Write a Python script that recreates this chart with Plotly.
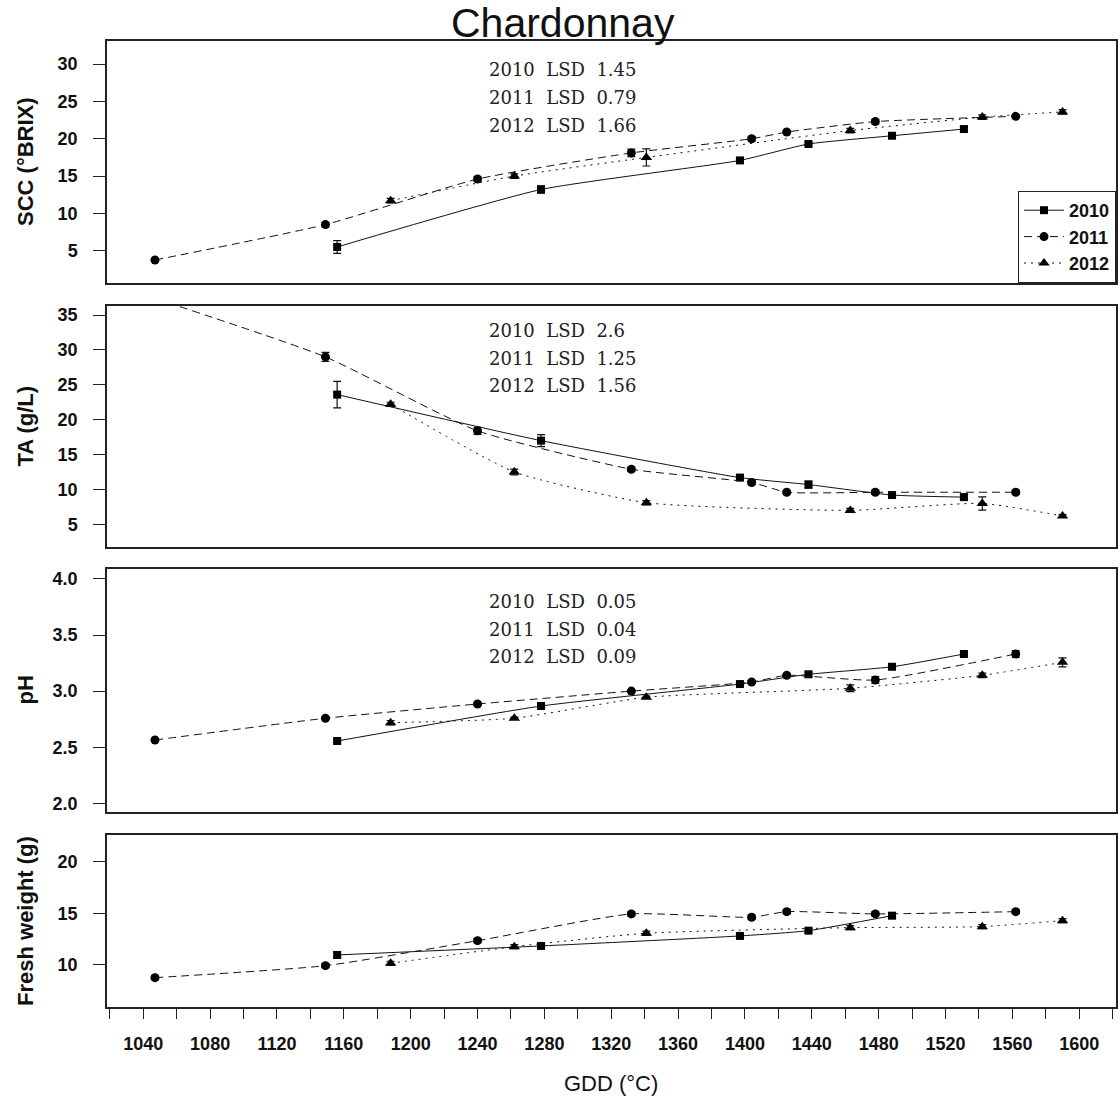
import plotly.graph_objects as go

# ---------------- data ----------------
years = ["2010", "2011", "2012"]
gdd_2010 = [1156, 1278, 1397, 1438, 1488, 1531]
gdd_2011 = [1047, 1149, 1240, 1332, 1404, 1425, 1478, 1562]
gdd_2012 = [1188, 1262, 1341, 1463, 1542, 1590]

scc_2010 = [5.5, 13.2, 17.1, 19.3, 20.4, 21.3]
scc_2011 = [3.75, 8.5, 14.6, 18.1, 20.0, 20.9, 22.3, 23.0]
scc_2012 = [11.7, 15.0, 17.5, 21.1, 22.9, 23.6]
scc_err_2010 = [0.85, 0.5, 0.2, 0.2, 0.2, 0.3]
scc_err_2011 = [0.2, 0.3, 0.3, 0.5, 0.3, 0.2, 0.3, 0.2]
scc_err_2012 = [0.3, 0.3, 1.15, 0.3, 0.3, 0.3]

ta_2010 = [23.6, 17.0, 11.7, 10.7, 9.2, 8.9]
ta_2011 = [37.4, 29.0, 18.4, 12.9, 11.0, 9.6, 9.6, 9.6]
ta_2012 = [22.2, 12.5, 8.1, 7.0, 8.0, 6.2]
ta_err_2010 = [1.9, 0.85, 0.4, 0.5, 0.3, 0.4]
ta_err_2011 = [0.0, 0.65, 0.5, 0.3, 0.3, 0.2, 0.3, 0.3]
ta_err_2012 = [0.3, 0.4, 0.3, 0.3, 0.95, 0.2]

ph_2010 = [2.555, 2.867, 3.063, 3.15, 3.217, 3.331]
ph_2011 = [2.564, 2.758, 2.885, 3.0, 3.081, 3.141, 3.099, 3.331]
ph_2012 = [2.718, 2.758, 2.945, 3.025, 3.141, 3.257]
ph_err_2010 = [0.01, 0.015, 0.01, 0.02, 0.01, 0.01]
ph_err_2011 = [0.01, 0.01, 0.01, 0.01, 0.01, 0.01, 0.03, 0.03]
ph_err_2012 = [0.02, 0.01, 0.01, 0.03, 0.02, 0.04]

fw_2010 = [10.97, 11.84, 12.81, 13.32, 14.77, None]
fw_2011 = [8.77, 9.93, 12.35, 14.94, 14.62, 15.16, 14.94, 15.16]
fw_2012 = [10.16, 11.77, 13.07, 13.61, 13.71, 14.29]
fw_err_2010 = [0.3, 0.2, 0.2, 0.2, 0.2, 0]
fw_err_2011 = [0.2, 0.2, 0.2, 0.2, 0.2, 0.2, 0.2, 0.2]
fw_err_2012 = [0.2, 0.2, 0.2, 0.2, 0.2, 0.2]

lsd_scc = ["1.45", "0.79", "1.66"]
lsd_ta = ["2.6", "1.25", "1.56"]
lsd_ph = ["0.05", "0.04", "0.09"]

y_titles = ["SCC (°BRIX)", "TA (g/L)", "pH", "Fresh weight (g)"]
x_ticks = list(range(1040, 1601, 40))

# ---------------- layout helpers ----------------
W, H = 1120, 1099
L, R = 107, 1116


def px_x(p):
    return (p - L) / (R - L)


def px_y(p):
    return (H - p) / H


panel_px = [(41, 283), (306, 547), (569, 812), (835, 1007)]
y_ranges = [[0.67, 33.1], [1.75, 36.3], [1.922, 4.089], [5.93, 22.58]]
y_ticks = [[5, 10, 15, 20, 25, 30], [5, 10, 15, 20, 25, 30, 35],
           [2.0, 2.5, 3.0, 3.5, 4.0], [10, 15, 20]]
x_range = [1018.3, 1622]

styles = {
    "2010": dict(dash="solid", symbol="square", size=8),
    "2011": dict(dash="8px,5px", symbol="circle", size=9),
    "2012": dict(dash="2px,5px", symbol="triangle-up", size=10),
}

panels = [
    ([gdd_2010, gdd_2011, gdd_2012], [scc_2010, scc_2011, scc_2012],
     [scc_err_2010, scc_err_2011, scc_err_2012]),
    ([gdd_2010, gdd_2011, gdd_2012], [ta_2010, ta_2011, ta_2012],
     [ta_err_2010, ta_err_2011, ta_err_2012]),
    ([gdd_2010, gdd_2011, gdd_2012], [ph_2010, ph_2011, ph_2012],
     [ph_err_2010, ph_err_2011, ph_err_2012]),
    ([gdd_2010, gdd_2011, gdd_2012], [fw_2010, fw_2011, fw_2012],
     [fw_err_2010, fw_err_2011, fw_err_2012]),
]

fig = go.Figure()
for i, (xs, ys, es) in enumerate(panels):
    ax = "" if i == 0 else str(i + 1)
    for yr, x, y, e in zip(years, xs, ys, es):
        st = styles[yr]
        fig.add_trace(go.Scatter(
            x=x, y=y, name=yr, mode="lines+markers",
            xaxis="x" + ax, yaxis="y" + ax,
            line=dict(color="#111", width=1, dash=st["dash"], shape="spline", smoothing=0.5),
            marker=dict(symbol=st["symbol"], size=st["size"], color="#000"),
            error_y=dict(type="data", array=e, visible=True, color="#111",
                         thickness=1.2, width=4),
            showlegend=(i == 0), connectgaps=False, cliponaxis=True,
        ))

font_sans = "Liberation Sans, Arial, sans-serif"
layout = dict(
    width=W, height=H, plot_bgcolor="white", paper_bgcolor="white",
    margin=dict(l=L, r=W - R, t=0, b=0),
    showlegend=True,
    legend=dict(x=1, xanchor="right", y=px_y(283), yanchor="bottom",
                bordercolor="#222", borderwidth=1, bgcolor="white",
                font=dict(family=font_sans, size=18, color="#111", weight="bold"),
                tracegroupgap=0, itemwidth=40),
)
for i in range(4):
    ax = "" if i == 0 else str(i + 1)
    top, bot = panel_px[i]
    bottom = i == 3
    xa = dict(domain=[0, 1], range=x_range, anchor="y" + ax,
              showline=True, mirror=True, linecolor="#222", linewidth=1.5,
              showgrid=False, zeroline=False, automargin=False,
              showticklabels=bottom, ticks="outside" if bottom else "")
    if bottom:
        xa.update(tickvals=x_ticks, ticklen=10, tickwidth=1.3, tickcolor="#222",
                  ticklabelstandoff=10,
                  tickfont=dict(family=font_sans, size=18, color="#111", weight="bold"),
                  minor=dict(ticks="outside", ticklen=10, dtick=20, tick0=1040,
                             tickwidth=1.3, tickcolor="#222"))
    ya = dict(domain=[px_y(bot), px_y(top)], range=y_ranges[i], anchor="x" + ax,
              showline=True, mirror=True, linecolor="#222", linewidth=1.5,
              showgrid=False, zeroline=False, automargin=False,
              tickvals=y_ticks[i], ticks="outside", ticklen=12, tickwidth=1.3,
              tickcolor="#222", ticklabelstandoff=12,
              tickfont=dict(family=font_sans, size=18, color="#111", weight="bold"))
    if i == 2:
        ya["tickformat"] = ".1f"
    layout["xaxis" + ax] = xa
    layout["yaxis" + ax] = ya

annotations = []
annotations.append(dict(text="Chardonnay", x=px_x(563), y=px_y(23), xref="paper", yref="paper",
                        xanchor="center", yanchor="middle",
                        showarrow=False, font=dict(family=font_sans, size=41, color="#111")))
annotations.append(dict(text="GDD (°C)", x=px_x(611), y=px_y(1083), xref="paper", yref="paper",
                        xanchor="center", yanchor="middle",
                        showarrow=False, font=dict(family=font_sans, size=22, color="#111")))
for i, t in enumerate(y_titles):
    top, bot = panel_px[i]
    annotations.append(dict(text=t, x=px_x(25), y=px_y((top + bot) / 2), xref="paper", yref="paper",
                            xanchor="center", yanchor="middle",
                            showarrow=False, textangle=-90,
                            font=dict(family=font_sans, size=22, color="#111", weight="bold")))

lsd_rows = [(lsd_scc, [70, 98, 126]), (lsd_ta, [330, 358, 385.5]), (lsd_ph, [601.5, 629.5, 656.5])]
nb = "\u00a0"
for vals, ys in lsd_rows:
    for yr, v, yp in zip(years, vals, ys):
        annotations.append(dict(text=f"{yr}{nb*2}LSD{nb*2}{v}", x=px_x(487), y=px_y(yp),
                                xref="paper", yref="paper", xanchor="left", yanchor="middle",
                                showarrow=False,
                                font=dict(family="DejaVu Serif, serif", size=18, color="#222")))
layout["annotations"] = annotations
fig.update_layout(**layout)
fig.write_html("out.html")
